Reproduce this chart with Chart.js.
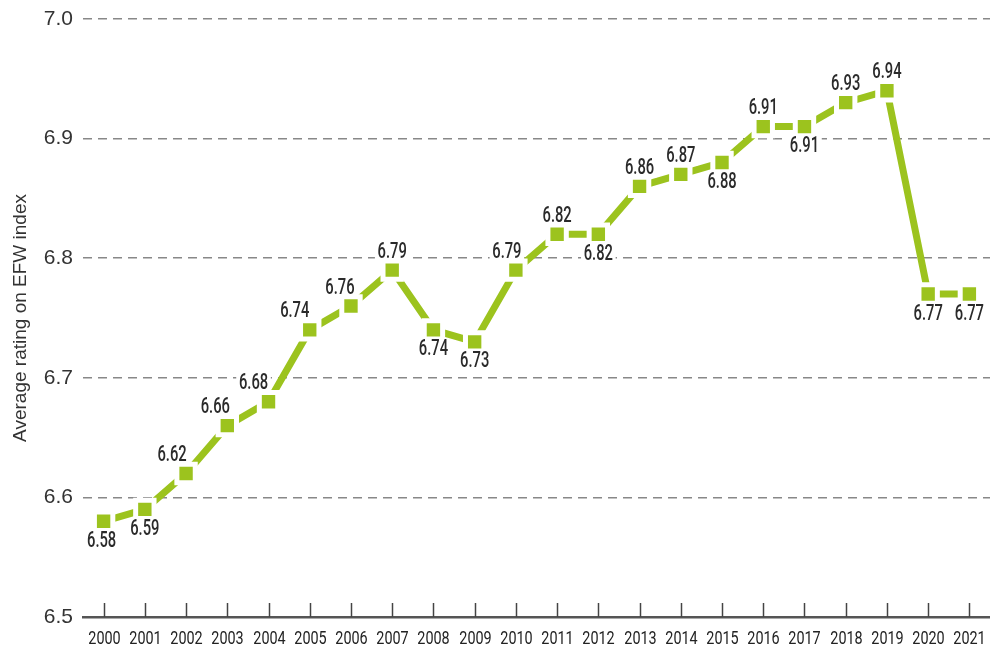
<!DOCTYPE html>
<html>
<head>
<meta charset="utf-8">
<script src="https://cdn.jsdelivr.net/npm/chart.js@4"></script>
<style>
  html, body { margin: 0; padding: 0; background: #fff; overflow: hidden; }
  #wrap { width: 990px; height: 650px; position: relative; }
  canvas { display: block; }
</style>
</head>
<body>
<div id="wrap"><canvas id="efwChart"></canvas></div>
<script>
const years = ["2000","2001","2002","2003","2004","2005","2006","2007","2008","2009","2010",
               "2011","2012","2013","2014","2015","2016","2017","2018","2019","2020","2021"];
const ratings = [6.58, 6.59, 6.62, 6.66, 6.68, 6.74, 6.76, 6.79, 6.74, 6.73, 6.79,
                 6.82, 6.82, 6.86, 6.87, 6.88, 6.91, 6.91, 6.93, 6.94, 6.77, 6.77];
// which point labels sit below the marker
const labelBelow = [true, true, false, false, false, false, false, false, true, true, false,
                    false, true, false, false, true, false, true, false, false, true, true];
// labels on the steep stretch are nudged left off the line (px)
const labelNudge = [-2, 0, -14, -12, -15, -15, -11, 0, 0, 0, -9,
                    0, 0, 0, 0, 0, 0, 0, 0, 0, 0, 0];
const yTicks = [6.5, 6.6, 6.7, 6.8, 6.9, 7.0];

const green = '#9cc31e';
const sans = "'Liberation Sans', Arial, sans-serif";

// condensed look: plain Roboto squeezed sideways
function narrowText(ctx, text, x, y, sx, bg) {
    ctx.save();
    ctx.translate(x, y);
    ctx.scale(sx, 1);
    if (bg) {
        const w = ctx.measureText(text).width;
        ctx.fillStyle = '#fff';
        ctx.fillRect(-w / 2 - 4, -9, w + 8, 18);
        ctx.fillStyle = '#2a2a2a';
    }
    ctx.fillText(text, 0, 0);
    ctx.restore();
}

const pointLabels = {
    id: 'pointLabels',
    afterDatasetsDraw(chart) {
        const ctx = chart.ctx;
        const meta = chart.getDatasetMeta(0);
        ctx.save();
        ctx.font = '500 22px Roboto';
        ctx.fillStyle = '#2a2a2a';
        ctx.textAlign = 'center';
        ctx.textBaseline = 'middle';
        meta.data.forEach((pt, i) => {
            const dy = labelBelow[i] ? 20 : -18;
            narrowText(ctx, ratings[i].toFixed(2), pt.x + labelNudge[i], pt.y + dy, 0.67, true);
        });
        ctx.restore();
    }
};

const xAxisBits = {
    id: 'xAxisBits',
    afterDraw(chart) {
        const ctx = chart.ctx;
        const x = chart.scales.x;
        const bottom = chart.chartArea.bottom;
        ctx.save();
        ctx.strokeStyle = '#444';
        ctx.lineWidth = 1.5;
        ctx.font = '18px Roboto';
        ctx.fillStyle = '#222';
        ctx.textAlign = 'center';
        ctx.textBaseline = 'middle';
        years.forEach((y, i) => {
            const px = Math.round(x.getPixelForValue(i)) + 0.5;
            ctx.beginPath();
            ctx.moveTo(px, bottom - 14);
            ctx.lineTo(px, bottom);
            ctx.stroke();
            narrowText(ctx, y, px, bottom + 22, 0.8, false);
        });
        ctx.restore();
    }
};

document.addEventListener("DOMContentLoaded", function() {
    let ctx = document.getElementById('efwChart').getContext('2d');
    new Chart(ctx, {
        type: 'line',
        data: {
            labels: years,
            datasets: [{
                label: "Average rating on EFW index",
                data: ratings,
                borderColor: green,
                borderWidth: 7,
                pointStyle: 'rect',
                pointRadius: 13,
                pointBackgroundColor: green,
                pointBorderColor: '#fff',
                pointBorderWidth: 5,
                tension: 0,
                fill: false,
                clip: false
            }]
        },
        options: {
            responsive: true,
            maintainAspectRatio: false,
            animation: false,
            layout: { autoPadding: false, padding: { top: 1, right: 0, left: 0, bottom: 0 } },
            plugins: { legend: { display: false }, tooltip: { enabled: false } },
            scales: {
                x: {
                    offset: true,
                    afterFit(axis) { axis.height = 33; },
                    grid: { display: false, drawTicks: false },
                    border: { display: true, color: '#555', width: 2.5 },
                    ticks: { display: false }
                },
                y: {
                    min: 6.5,
                    max: 7.0,
                    afterBuildTicks(axis) {
                        axis.ticks = yTicks.map(v => ({ value: v }));
                    },
                    afterFit(axis) { axis.width = 83; },
                    grid: {
                        color: '#888',
                        lineWidth: 1.5,
                        drawTicks: false
                    },
                    border: { display: false, dash: [9, 6] },
                    ticks: {
                        padding: 10,
                        color: '#333',
                        font: { family: sans, size: 21, lineHeight: 0.85 },
                        callback: v => v.toFixed(1)
                    },
                    title: {
                        display: true,
                        text: 'Average rating on EFW index',
                        color: '#333',
                        font: { family: sans, size: 19 },
                        padding: { top: 9, bottom: 0 }
                    }
                }
            }
        },
        plugins: [pointLabels, xAxisBits]
    });
});
</script>
</body>
</html>
